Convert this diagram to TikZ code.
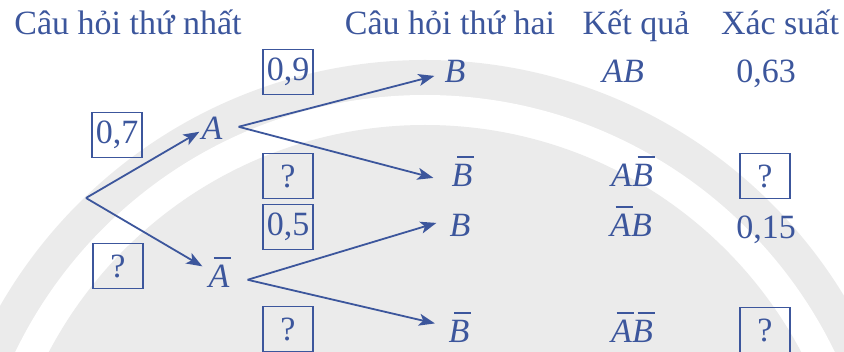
\documentclass[tikz,border=0pt]{standalone}
\usepackage{fontspec}
\setmainfont{Liberation Serif}
\usetikzlibrary{arrows.meta}
\definecolor{tb}{RGB}{60,86,156}
\definecolor{wm}{RGB}{235,235,235}
\newcommand\ob[1]{\rlap{\hspace{0.16em}\smash{\raisebox{0.85em}{\color{tb}\rule{0.5em}{0.065em}}}}#1}
\begin{document}
\begin{tikzpicture}[x=1pt,y=-1pt,
  every node/.style={text=tb,font=\fontsize{34}{40}\selectfont},
  lbl/.style={draw=tb,line width=1.5pt,minimum width=50pt,minimum height=45pt,inner sep=0pt},
  txt/.style={inner sep=0pt,anchor=base},
  arr/.style={draw=tb,line width=1.8pt,-{Stealth[length=16pt,width=12pt,inset=4pt]}}]
\useasboundingbox (0,0) rectangle (844,352);
% watermark background
\begin{scope}
\clip (0,0) rectangle (844,352);
\fill[wm] (425,550) circle[radius=490pt];
\fill[white] (425,550) circle[radius=455pt];
\fill[wm] (425,550) circle[radius=425pt];
\end{scope}
% headers
\node[txt] (h1) at (128,35) {Câu hỏi thứ nhất};
\node[txt] (h2) at (450,35) {Câu hỏi thứ hai};
\node[txt] (h3) at (636,35) {Kết quả};
\node[txt] (h4) at (780,35) {Xác suất};
% probability boxes
\node[lbl] (p07) at (117,135) {0,7};
\node[lbl] (pq1) at (118,266) {?};
\node[lbl] (p09) at (288,72) {0,9};
\node[lbl] (pq2) at (288,176) {?};
\node[lbl] (p05) at (288,227) {0,5};
\node[lbl] (pq3) at (288,329) {?};
\node[lbl] (rq1) at (765,176) {?};
\node[lbl] (rq2) at (765,330) {?};
% events
\node[txt] (A) at (212,140) {\textit{A}};
\node[txt] (Ab) at (219,288) {\ob{\textit{A}}};
\node[txt] (B1) at (455,83) {\textit{B}};
\node[txt] (B2) at (462,187) {\ob{\textit{B}}};
\node[txt] (B3) at (460,237) {\textit{B}};
\node[txt] (B4) at (459,343) {\ob{\textit{B}}};
% results
\node[txt] (r1) at (623,83) {\textit{AB}};
\node[txt] (r2) at (632,187) {\textit{A}\ob{\textit{B}}};
\node[txt] (r3) at (631,237) {\ob{\textit{A}}\textit{B}};
\node[txt] (r4) at (632,343) {\ob{\textit{A}}\ob{\textit{B}}};
\node[txt] (v1) at (766,83) {0,63};
\node[txt] (v2) at (766,239) {0,15};
% branch points
\coordinate (root) at (86,198);
\coordinate (Aout) at ([shift={(16pt,2pt)}]A.east);
\coordinate (About) at ([shift={(18pt,-3pt)}]Ab.east);
% connectors
\draw[arr] (root) -- ([shift={(-2pt,-3pt)}]A.west);
\draw[arr] (root) -- ([shift={(-6pt,-1pt)}]Ab.north west);
\draw[arr] (Aout) -- ([shift={(-10pt,-4pt)}]B1.west);
\draw[arr] (Aout) -- ([shift={(-18pt,-2pt)}]B2.west);
\draw[arr] (About) -- ([shift={(-13pt,3pt)}]B3.west);
\draw[arr] (About) -- ([shift={(-13.5pt,8.5pt)}]B4.west);
\end{tikzpicture}
\end{document}
